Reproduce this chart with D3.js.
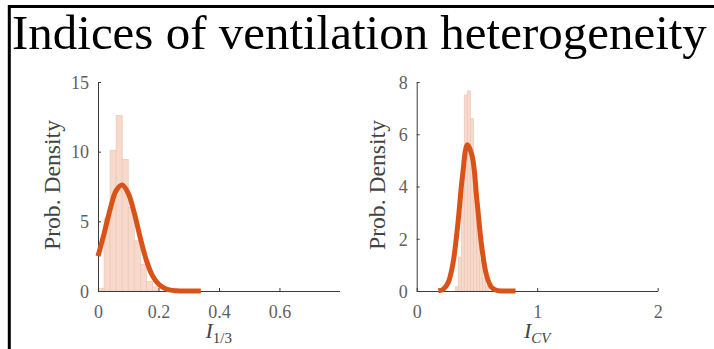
<!DOCTYPE html>
<html>
<head>
<meta charset="utf-8">
<script src="https://cdn.jsdelivr.net/npm/d3@7"></script>
<style>
  html, body { margin: 0; padding: 0; background: #fff; }
  svg { display: block; }
  text { font-family: "Liberation Serif", "DejaVu Serif", serif; }
</style>
</head>
<body>
<svg id="fig" width="714" height="349"></svg>
<script>
// ---- data ----
const titleText = "Indices of ventilation heterogeneity";

// left panel: I_{1/3}
const i13Edges = [0, 0.02, 0.04, 0.06, 0.08, 0.10, 0.12, 0.14, 0.16, 0.18, 0.20];
const i13Density = [0.2, 5.2, 10.1, 12.6, 9.45, 6.0, 3.6, 1.9, 0.7, 0.3];
const i13FitX = [0, 0.02, 0.04, 0.06, 0.08, 0.10, 0.12, 0.14, 0.16, 0.18, 0.20, 0.22, 0.24, 0.26, 0.28, 0.30, 0.34];
const i13FitY = [2.5, 4.1, 5.85, 7.2, 7.6, 7.0, 5.6, 3.8, 2.2, 1.1, 0.5, 0.2, 0.06, 0.02, 0, 0, 0];
const i13XTicks = [0, 0.2, 0.4, 0.6];
const i13YTicks = [0, 5, 10, 15];

// right panel: I_CV
const icvEdges = [0.32, 0.345, 0.37, 0.395, 0.42, 0.445, 0.47, 0.495, 0.52, 0.545, 0.57, 0.595];
const icvDensity = [0.16, 1.3, 4.5, 7.5, 7.66, 6.6, 4.5, 2.8, 1.2, 0.5, 0.2];
const icvFitX = [0.18, 0.22, 0.26, 0.30, 0.34, 0.38, 0.42, 0.46, 0.50, 0.54, 0.58, 0.62, 0.66, 0.70, 0.74, 0.78, 0.82];
const icvFitY = [0.01, 0.07, 0.31, 1.03, 2.5, 4.4, 5.6, 5.17, 3.46, 1.68, 0.59, 0.15, 0.03, 0, 0, 0, 0];
const icvXTicks = [0, 1, 2];
const icvYTicks = [0, 2, 4, 6, 8];

const svg = d3.select("#fig");

// frame (left + top rules)
svg.append("path")
  .attr("d", "M9.3,349V6.5H714")
  .attr("fill", "none")
  .attr("stroke", "#000")
  .attr("stroke-width", 3);

// title, scaled to span the width
const title = svg.append("text")
  .attr("x", 12)
  .attr("y", 49)
  .attr("font-size", 48)
  .attr("fill", "#000")
  .text(titleText);
const tw = title.node().getComputedTextLength();
title.attr("font-size", 48 * 695 / tw);

function panel(opt) {
  const x = d3.scaleLinear().domain(opt.xDomain).range(opt.xRange);
  const y = d3.scaleLinear().domain(opt.yDomain).range([291, 82]);
  const g = svg.append("g");

  // histogram bars
  g.append("g")
    .selectAll("rect")
    .data(opt.density)
    .join("rect")
    .attr("x", (d, i) => x(opt.edges[i]))
    .attr("width", (d, i) => x(opt.edges[i + 1]) - x(opt.edges[i]))
    .attr("y", d => y(d))
    .attr("height", d => y(0) - y(d))
    .attr("fill", "#f7dacc")
    .attr("stroke", "#ebc6b5")
    .attr("stroke-width", 0.7);

  // axes, ticks pointing inward like matlab
  const xAxis = d3.axisBottom(x)
    .tickValues(opt.xTicks)
    .tickFormat(d => d)
    .tickSizeInner(-3)
    .tickSizeOuter(0)
    .tickPadding(14);
  const yAxis = d3.axisLeft(y)
    .tickValues(opt.yTicks)
    .tickFormat(d => d)
    .tickSizeInner(-3)
    .tickSizeOuter(0)
    .tickPadding(9);

  const gx = g.append("g").attr("transform", "translate(0,291)").call(xAxis);
  const gy = g.append("g").attr("transform", `translate(${opt.xRange[0]},0)`).call(yAxis);
  [gx, gy].forEach(a => {
    a.select(".domain").attr("stroke", "#3c3c3c").attr("stroke-width", 1);
    a.selectAll(".tick line").attr("stroke", "#3c3c3c");
    a.selectAll(".tick text")
      .attr("fill", "#5f5f5f")
      .attr("font-size", 18)
      .attr("font-family", "'Liberation Serif', serif");
  });
  gy.selectAll(".tick text").attr("dy", "0.35em");

  // fitted curve
  const line = d3.line()
    .x(d => x(d[0]))
    .y(d => y(d[1]))
    .curve(d3.curveCatmullRom);
  g.append("path")
    .datum(opt.fitX.map((v, i) => [v, opt.fitY[i]]))
    .attr("d", line)
    .attr("fill", "none")
    .attr("stroke", "#d95319")
    .attr("stroke-width", 5)
    .attr("stroke-linejoin", "round");

  // y label, sized to the reference length
  const yl = g.append("text")
    .attr("transform", `translate(${opt.yLabelX},185) rotate(-90)`)
    .attr("text-anchor", "middle")
    .attr("font-size", 20)
    .attr("fill", "#444")
    .text("Prob. Density");
  yl.attr("font-size", 20 * 130 / yl.node().getComputedTextLength());

  // x label: italic I with subscript
  const cx = (opt.xRange[0] + opt.xRange[1]) / 2;
  const xl = g.append("text")
    .attr("x", cx)
    .attr("y", 338)
    .attr("text-anchor", "middle")
    .attr("fill", "#444")
    .attr("font-size", 22);
  xl.append("tspan").attr("font-style", "italic").text("I");
  xl.append("tspan")
    .attr("font-size", 15)
    .attr("dy", 5)
    .attr("font-style", opt.subItalic ? "italic" : "normal")
    .text(opt.sub);
}

panel({
  xDomain: [0, 0.7985], xRange: [98, 339.5], yDomain: [0, 15],
  edges: i13Edges, density: i13Density, fitX: i13FitX, fitY: i13FitY,
  xTicks: i13XTicks, yTicks: i13YTicks, yLabelX: 60, sub: "1/3", subItalic: false
});

panel({
  xDomain: [0, 2], xRange: [416.7, 657.7], yDomain: [0, 8],
  edges: icvEdges, density: icvDensity, fitX: icvFitX, fitY: icvFitY,
  xTicks: icvXTicks, yTicks: icvYTicks, yLabelX: 385, sub: "CV", subItalic: true
});
</script>
</body>
</html>
